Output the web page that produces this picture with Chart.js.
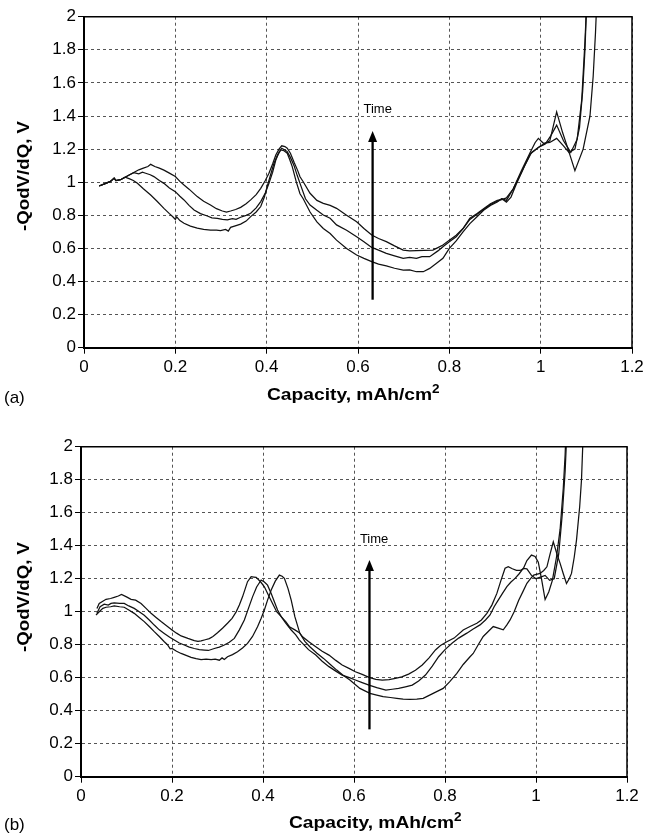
<!DOCTYPE html>
<html><head><meta charset="utf-8">
<script src="https://cdn.jsdelivr.net/npm/chart.js@4"></script>
<style>
html,body{margin:0;padding:0;background:#fff;width:648px;height:834px;overflow:hidden;}
canvas{position:absolute;left:0;}
#ca{top:0;} #cb{top:420px;}
.lbl{position:absolute;font-family:"Liberation Sans",Arial,Helvetica,sans-serif;color:#000;white-space:nowrap;line-height:1;}
.xt{font-weight:bold;font-size:17px;transform-origin:0 50%;transform:translateY(-50%) scaleX(1.13);}
.xt sup{font-size:12px;vertical-align:7px;line-height:0;}
.yt{font-weight:bold;font-size:17px;transform:translate(-50%,-50%) rotate(-90deg) scaleX(1.1);}
.pl{font-size:17px;transform:translateY(-50%);}
</style></head><body>
<canvas id="ca" width="648" height="410"></canvas>
<canvas id="cb" width="648" height="414"></canvas>
<div class="lbl yt" style="left:23px;top:176px">-QodV/dQ, V</div>
<div class="lbl yt" style="left:23px;top:597px">-QodV/dQ, V</div>
<div class="lbl xt" style="left:267px;top:394px">Capacity, mAh/cm<sup>2</sup></div>
<div class="lbl xt" style="left:289px;top:822px">Capacity, mAh/cm<sup>2</sup></div>
<div class="lbl pl" style="left:4px;top:397px">(a)</div>
<div class="lbl pl" style="left:4px;top:824px">(b)</div>
<script>
// ---- axis ticks ----
const capacityTicks = [0, 0.2, 0.4, 0.6, 0.8, 1.0, 1.2];
const capacityTickLabels = ['0', '0.2', '0.4', '0.6', '0.8', '1', '1.2'];
const voltageTicks = [0, 0.2, 0.4, 0.6, 0.8, 1.0, 1.2, 1.4, 1.6, 1.8, 2.0];
const voltageTickLabels = ['0', '0.2', '0.4', '0.6', '0.8', '1', '1.2', '1.4', '1.6', '1.8', '2'];

// ---- panel (a) curves: [capacity, -QodV/dQ] ----
const curveA1 = [[.033,.977],[.045,.99],[.058,1.005],[.066,1.025],[.07,1.01],[.08,1.015],[.09,1.03],[.1,1.045],[.11,1.06],[.12,1.075],[.13,1.085],[.14,1.095],[.146,1.108],[.155,1.095],[.165,1.085],[.175,1.073],[.187,1.055],[.2,1.034],[.21,1.005],[.219,.983],[.23,.958],[.248,.913],[.262,.885],[.277,.862],[.29,.84],[.303,.826],[.312,.82],[.321,.826],[.332,.835],[.343,.848],[.355,.87],[.365,.893],[.377,.925],[.387,.963],[.397,1.01],[.405,1.054],[.413,1.11],[.42,1.164],[.427,1.2],[.433,1.22],[.44,1.215],[.445,1.205],[.452,1.175],[.46,1.12],[.468,1.07],[.473,1.033],[.48,1.003],[.495,.933],[.51,.89],[.524,.872],[.539,.86],[.553,.842],[.575,.8],[.597,.761],[.613,.72],[.63,.681],[.645,.66],[.662,.641],[.68,.615],[.699,.59],[.713,.585],[.728,.586],[.745,.588],[.764,.59],[.775,.605],[.786,.62],[.8,.65],[.815,.68],[.83,.72],[.845,.782],[.86,.81],[.875,.84],[.89,.87],[.905,.89],[.915,.895],[.925,.905],[.94,.96],[.958,1.07],[.977,1.18],[.988,1.24],[.995,1.265],[1.006,1.235],[1.02,1.24],[1.035,1.265],[1.05,1.22],[1.062,1.18],[1.075,1.2],[1.085,1.33],[1.092,1.55],[1.097,1.8],[1.101,2.1]];
const curveA2 = [[.033,.977],[.045,.99],[.058,1.005],[.066,1.025],[.07,1.01],[.08,1.015],[.09,1.03],[.1,1.045],[.109,1.058],[.12,1.05],[.128,1.06],[.135,1.054],[.145,1.045],[.153,1.034],[.165,1.01],[.175,.993],[.187,.965],[.2,.943],[.21,.915],[.219,.893],[.23,.86],[.241,.832],[.255,.81],[.27,.796],[.28,.785],[.292,.782],[.303,.775],[.314,.772],[.325,.78],[.333,.775],[.343,.788],[.355,.8],[.365,.812],[.377,.845],[.387,.883],[.397,.935],[.405,.993],[.413,1.06],[.42,1.134],[.427,1.18],[.433,1.205],[.44,1.195],[.445,1.185],[.452,1.15],[.46,1.1],[.467,1.04],[.473,.993],[.485,.9],[.495,.862],[.51,.83],[.524,.802],[.539,.782],[.553,.742],[.575,.71],[.597,.671],[.613,.64],[.63,.606],[.645,.59],[.662,.57],[.68,.555],[.699,.54],[.713,.545],[.728,.54],[.74,.55],[.757,.55],[.775,.585],[.786,.61],[.8,.64],[.815,.67],[.83,.72],[.845,.775],[.86,.805],[.875,.835],[.89,.865],[.905,.885],[.915,.9],[.925,.89],[.94,.96],[.958,1.06],[.977,1.17],[.995,1.21],[1.01,1.23],[1.022,1.28],[1.035,1.345],[1.05,1.25],[1.066,1.18],[1.08,1.26],[1.09,1.5],[1.097,1.85],[1.101,2.1]];
const curveA3 = [[.033,.977],[.045,.99],[.058,1.005],[.066,1.025],[.07,1.01],[.08,1.015],[.09,1.03],[.1,1.02],[.108,1.01],[.117,.993],[.13,.96],[.146,.923],[.16,.885],[.175,.842],[.187,.81],[.195,.79],[.2,.775],[.203,.79],[.21,.768],[.219,.752],[.233,.735],[.248,.722],[.262,.715],[.277,.711],[.29,.71],[.299,.707],[.31,.715],[.316,.705],[.321,.727],[.333,.738],[.343,.747],[.355,.765],[.365,.792],[.377,.82],[.387,.853],[.395,.91],[.401,.973],[.408,1.04],[.416,1.114],[.424,1.165],[.431,1.195],[.438,1.19],[.445,1.175],[.45,1.14],[.456,1.094],[.465,1.0],[.473,.93],[.48,.9],[.495,.82],[.51,.76],[.524,.72],[.539,.69],[.553,.65],[.575,.6],[.597,.56],[.613,.54],[.63,.52],[.645,.505],[.662,.494],[.68,.48],[.699,.469],[.713,.47],[.728,.459],[.743,.459],[.757,.479],[.772,.51],[.786,.54],[.8,.6],[.815,.645],[.83,.7],[.845,.75],[.86,.79],[.875,.83],[.89,.86],[.905,.88],[.915,.9],[.925,.88],[.935,.91],[.947,.99],[.965,1.1],[.98,1.18],[1.0,1.22],[1.02,1.25],[1.035,1.425],[1.048,1.3],[1.06,1.2],[1.075,1.07],[1.093,1.2],[1.108,1.4],[1.115,1.64],[1.12,1.9],[1.123,2.1]];

// ---- panel (b) curves ----
const curveB1 = [[.035,1.02],[.04,1.05],[.055,1.075],[.065,1.08],[.073,1.087],[.082,1.095],[.089,1.105],[.1,1.09],[.11,1.075],[.12,1.07],[.132,1.05],[.143,1.02],[.154,.99],[.165,.965],[.176,.94],[.188,.915],[.2,.889],[.21,.87],[.22,.853],[.235,.838],[.249,.825],[.257,.82],[.264,.823],[.273,.83],[.282,.837],[.29,.85],[.3,.872],[.311,.9],[.322,.93],[.332,.96],[.341,.999],[.348,1.04],[.355,1.09],[.361,1.14],[.366,1.182],[.374,1.212],[.38,1.21],[.385,1.208],[.395,1.18],[.403,1.151],[.412,1.1],[.421,1.05],[.43,1.0],[.44,.97],[.45,.94],[.458,.909],[.47,.89],[.48,.873],[.487,.848],[.5,.82],[.516,.788],[.53,.76],[.545,.737],[.56,.705],[.574,.677],[.59,.655],[.603,.636],[.618,.62],[.633,.602],[.648,.59],[.662,.586],[.677,.588],[.691,.596],[.705,.605],[.72,.622],[.735,.645],[.75,.677],[.765,.72],[.779,.768],[.79,.795],[.804,.818],[.82,.84],[.84,.889],[.855,.91],[.87,.93],[.88,.95],[.892,.99],[.903,1.04],[.914,1.111],[.923,1.19],[.932,1.263],[.939,1.273],[.948,1.26],[.957,1.25],[.965,1.25],[.972,1.26],[.98,1.31],[.99,1.343],[.998,1.335],[1.005,1.3],[1.012,1.2],[1.02,1.074],[1.028,1.12],[1.036,1.19],[1.045,1.33],[1.053,1.5],[1.06,1.75],[1.064,1.95],[1.066,2.1]];
const curveB2 = [[.035,.99],[.042,1.03],[.051,1.046],[.06,1.04],[.066,1.05],[.073,1.054],[.085,1.05],[.095,1.05],[.105,1.035],[.117,1.02],[.128,1.0],[.139,.978],[.15,.95],[.161,.919],[.172,.89],[.183,.868],[.195,.845],[.205,.828],[.216,.81],[.227,.798],[.238,.785],[.249,.777],[.26,.77],[.271,.767],[.28,.765],[.293,.777],[.304,.785],[.315,.798],[.326,.815],[.337,.838],[.348,.89],[.359,.95],[.368,1.02],[.377,1.09],[.386,1.15],[.396,1.192],[.403,1.18],[.41,1.161],[.418,1.11],[.425,1.06],[.432,1.01],[.44,.97],[.45,.93],[.462,.889],[.472,.86],[.48,.828],[.487,.808],[.5,.77],[.516,.737],[.53,.7],[.545,.667],[.56,.64],[.574,.616],[.59,.6],[.603,.586],[.618,.57],[.633,.555],[.65,.54],[.67,.525],[.684,.53],[.698,.535],[.713,.545],[.728,.555],[.742,.58],[.757,.616],[.772,.67],[.786,.727],[.8,.77],[.816,.81],[.83,.84],[.848,.87],[.862,.895],[.877,.92],[.889,.95],[.899,.98],[.908,1.03],[.917,1.07],[.926,1.11],[.936,1.152],[.945,1.18],[.954,1.202],[.963,1.23],[.972,1.262],[.98,1.26],[.99,1.22],[1.0,1.2],[1.01,1.21],[1.02,1.22],[1.03,1.19],[1.04,1.2],[1.05,1.35],[1.058,1.6],[1.064,1.85],[1.068,2.1]];
const curveB3 = [[.033,.98],[.04,1.0],[.048,1.02],[.055,1.027],[.065,1.03],[.073,1.035],[.085,1.03],[.095,1.027],[.105,1.01],[.117,.99],[.128,.965],[.139,.94],[.15,.91],[.161,.879],[.172,.85],[.183,.818],[.19,.8],[.196,.775],[.2,.777],[.21,.76],[.22,.747],[.231,.735],[.242,.723],[.253,.715],[.264,.71],[.275,.712],[.286,.71],[.295,.712],[.304,.706],[.31,.72],[.315,.71],[.322,.727],[.333,.74],[.344,.757],[.355,.78],[.366,.808],[.377,.85],[.388,.909],[.396,.96],[.403,1.01],[.41,1.07],[.418,1.131],[.427,1.185],[.436,1.222],[.442,1.215],[.447,1.202],[.455,1.14],[.462,1.07],[.47,.97],[.481,.869],[.492,.82],[.503,.788],[.518,.75],[.533,.717],[.548,.68],[.562,.646],[.576,.615],[.591,.586],[.602,.56],[.613,.535],[.624,.52],[.635,.505],[.65,.495],[.664,.485],[.68,.48],[.694,.475],[.708,.47],[.723,.469],[.738,.47],[.752,.475],[.763,.49],[.774,.505],[.785,.52],[.796,.535],[.81,.575],[.826,.626],[.84,.68],[.855,.727],[.862,.747],[.873,.8],[.884,.85],[.895,.88],[.906,.91],[.917,.9],[.928,.89],[.936,.92],[.943,.95],[.952,1.0],[.962,1.07],[.971,1.12],[.98,1.172],[.988,1.2],[.995,1.222],[1.009,1.232],[1.017,1.25],[1.024,1.272],[1.031,1.35],[1.038,1.424],[1.046,1.35],[1.053,1.293],[1.06,1.23],[1.067,1.171],[1.073,1.2],[1.078,1.232],[1.084,1.33],[1.089,1.434],[1.096,1.636],[1.1,1.8],[1.104,2.1]];

// ---- "Time" arrow annotation (data units), per panel [a, b] ----
const arrowCapacity = [0.632, 0.634];
const arrowFrom = [0.29, 0.287];
const arrowTo = [1.31, 1.313];
const timeLabelCapacity = [0.612, 0.613];
const timeLabelValue = [1.44, 1.44];
const timeLabel = 'Time';

const FONT = '"Liberation Sans", Arial, Helvetica, sans-serif';

const framePlugin = {
  id: 'frame',
  afterDraw(chart) {
    const {ctx, chartArea: a} = chart;
    ctx.save();
    ctx.strokeStyle = '#000';
    ctx.lineWidth = 1.5;
    ctx.beginPath();
    ctx.moveTo(a.left, a.top);
    ctx.lineTo(a.right, a.top);
    ctx.lineTo(a.right, a.bottom);
    ctx.stroke();
    ctx.restore();
  }
};

const arrowPlugin = {
  id: 'timeArrow',
  afterDatasetsDraw(chart, args, o) {
    const ctx = chart.ctx, xs = chart.scales.x, ys = chart.scales.y;
    const x = xs.getPixelForValue(o.cap);
    const yb = ys.getPixelForValue(o.from);
    const yt = ys.getPixelForValue(o.to);
    ctx.save();
    ctx.strokeStyle = '#000';
    ctx.fillStyle = '#000';
    ctx.lineWidth = 2.3;
    ctx.beginPath();
    ctx.moveTo(x, yb);
    ctx.lineTo(x, yt + 9);
    ctx.stroke();
    ctx.beginPath();
    ctx.moveTo(x, yt);
    ctx.lineTo(x - 4.5, yt + 11);
    ctx.lineTo(x + 4.5, yt + 11);
    ctx.closePath();
    ctx.fill();
    ctx.font = '13px ' + FONT;
    ctx.textAlign = 'left';
    ctx.textBaseline = 'middle';
    ctx.fillText(o.text, xs.getPixelForValue(o.labelCap), ys.getPixelForValue(o.labelVal));
    ctx.restore();
  }
};

function makePanel(id, curves, yAxisWidth, padding, k) {
  const datasets = curves.map(c => ({
    data: c.map(p => ({x: p[0], y: p[1]})),
    borderColor: '#111',
    borderWidth: 1.25,
    pointRadius: 0,
    tension: 0,
    fill: false
  }));
  const gridCommon = {
    color: '#555',
    lineWidth: 1,
    tickColor: '#000',
    tickLength: 6,
    tickWidth: 1
  };
  return new Chart(document.getElementById(id), {
    type: 'line',
    data: {datasets},
    plugins: [arrowPlugin, framePlugin],
    options: {
      responsive: false,
      animation: false,
      devicePixelRatio: 1,
      events: [],
      layout: {padding},
      plugins: {
        legend: {display: false},
        tooltip: {enabled: false},
        timeArrow: {cap: arrowCapacity[k], from: arrowFrom[k], to: arrowTo[k],
          labelCap: timeLabelCapacity[k], labelVal: timeLabelValue[k], text: timeLabel}
      },
      scales: {
        x: {
          type: 'linear',
          min: capacityTicks[0],
          max: capacityTicks[capacityTicks.length - 1],
          afterBuildTicks: s => { s.ticks = capacityTicks.map(v => ({value: v})); },
          afterFit: s => { s.height = 30; },
          grid: gridCommon,
          border: {display: true, color: '#000', width: 2, dash: [3, 3]},
          ticks: {color: '#000', font: {family: FONT, size: 17}, padding: 3, maxRotation: 0,
            callback: (v, i) => capacityTickLabels[i]}
        },
        y: {
          type: 'linear',
          min: voltageTicks[0],
          max: voltageTicks[voltageTicks.length - 1],
          afterBuildTicks: s => { s.ticks = voltageTicks.map(v => ({value: v})); },
          afterFit: s => { s.width = yAxisWidth; },
          grid: gridCommon,
          border: {display: true, color: '#000', width: 2, dash: [3, 3]},
          ticks: {color: '#000', font: {family: FONT, size: 17}, padding: 2,
            callback: (v, i) => voltageTickLabels[i]}
        }
      }
    }
  });
}

makePanel('ca', [curveA1, curveA2, curveA3], 84, {top: 16.7, right: 16, bottom: 32.3, left: 0}, 0);
makePanel('cb', [curveB1, curveB2, curveB3], 81, {top: 26.7, right: 21, bottom: 27.3, left: 0}, 1);
</script>
</body></html>
